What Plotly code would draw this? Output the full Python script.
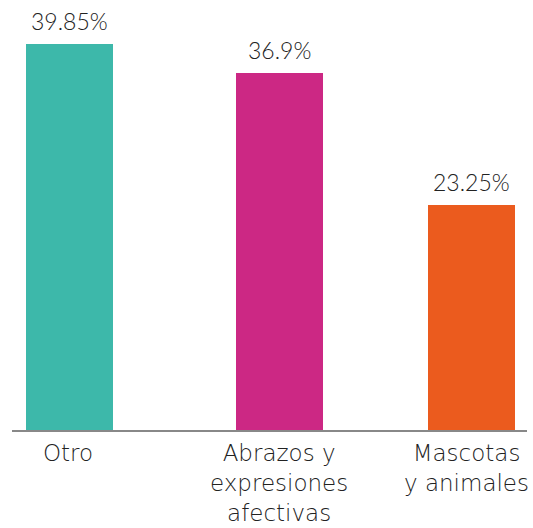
import plotly.graph_objects as go

categories = ["Otro", "Abrazos y<br>expresiones<br>afectivas", "Mascotas<br>y animales"]
values = [39.85, 36.9, 23.25]
value_labels = ["39.85%", "36.9%", "23.25%"]
colors = ["#3db8aa", "#cc2884", "#eb5b1e"]

VAL_FONT = "Lato"
CAT_FONT = "DejaVu Sans"
TXT = "#222222"

fig = go.Figure()
fig.add_trace(go.Bar(
    x=[0, 1, 2],
    y=values,
    marker=dict(color=colors, line=dict(width=0)),
    width=0.414,
    offset=[-0.207, -0.207, -0.293],
    hoverinfo="skip",
))

bar_shifts = [0, 0, -18]
for i, (v, lab, sh) in enumerate(zip(values, value_labels, bar_shifts)):
    fig.add_annotation(
        x=i, y=v, xref="x", yref="y",
        text=lab, showarrow=False,
        yanchor="bottom", xanchor="center",
        yshift=7, xshift=sh,
        font=dict(family=VAL_FONT, size=23, color=TXT, weight=300),
    )

label_shifts = [-2, 0, -23]
for i, (cat, sh) in enumerate(zip(categories, label_shifts)):
    fig.add_annotation(
        x=i, y=0, xref="x", yref="y",
        text=cat, showarrow=False,
        yanchor="top", xanchor="center", align="center",
        yshift=-8, xshift=sh,
        font=dict(family=CAT_FONT, size=23, color=TXT, weight=200),
    )

fig.update_layout(
    width=533, height=528,
    margin=dict(l=12, r=6, t=0, b=98, pad=0),
    paper_bgcolor="white", plot_bgcolor="white",
    showlegend=False,
    bargap=0,
    xaxis=dict(
        range=[-0.274, 2.179],
        showline=True, linecolor="#888888", linewidth=2,
        showticklabels=False, ticks="", showgrid=False, zeroline=False,
        fixedrange=True,
    ),
    yaxis=dict(
        range=[0, 44.4], visible=False, showgrid=False, zeroline=False,
        fixedrange=True,
    ),
)

fig.write_html(
    "out.html",
    post_script="document.body.style.margin='0';document.body.style.padding='0';",
    config={"displayModeBar": False},
)
